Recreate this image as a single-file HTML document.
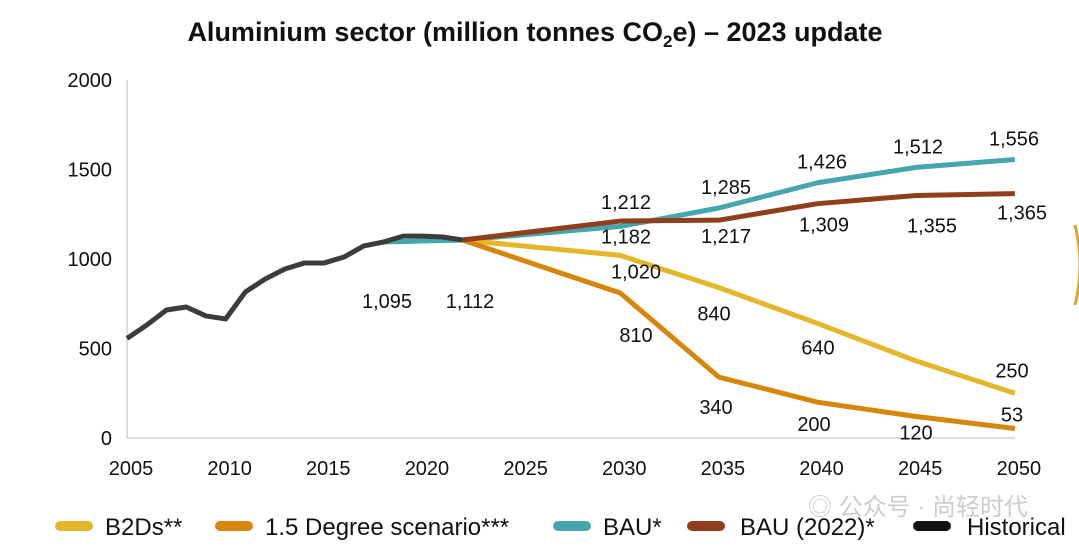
<!DOCTYPE html>
<html><head><meta charset="utf-8"><style>
body{margin:0;background:#fff;}
svg{display:block;font-family:"Liberation Sans",sans-serif;}
</style></head><body>
<svg id="chart" width="1079" height="551" viewBox="0 0 1079 551">
<text x="535" y="41" text-anchor="middle" font-size="27" font-weight="bold" fill="#111">Aluminium sector (million tonnes CO<tspan font-size="17" dy="6">2</tspan><tspan dy="-6">e) – 2023 update</tspan></text>
<line x1="127" y1="80" x2="127" y2="438" stroke="#bbb" stroke-width="1"/>
<line x1="127" y1="438" x2="1015" y2="438" stroke="#bbb" stroke-width="1"/>
<g id="yt"></g><g id="xt"></g><g id="lines"></g><g id="labels"></g>
<path d="M1075 225 Q1085 265 1075 305" stroke="#e2a040" stroke-width="3" fill="none"/>
<text x="918" y="515" text-anchor="middle" font-size="24" fill="#ccc" font-family="'Liberation Sans','Noto Sans CJK SC',sans-serif">◎ 公众号 · 尚轻时代</text>
<g id="legend"></g>
</svg>
<script>
const yTicks=[0,500,1000,1500,2000];
const xTicks=[2005,2010,2015,2020,2025,2030,2035,2040,2045,2050];
const histYears=[2005,2006,2007,2008,2009,2010,2011,2012,2013,2014,2015,2016,2017,2018,2019,2020,2021,2022];
const histVals=[556,631,715,732,682,665,816,888,944,978,978,1011,1073,1095,1128,1128,1123,1106];
const projYears=[2022,2030,2035,2040,2045,2050];
const b2ds=[1106,1020,840,640,430,250];
const deg15=[1106,810,340,200,120,53];
const bauYears=[2018,2022,2030,2035,2040,2045,2050];
const bau=[1095,1106,1182,1285,1426,1512,1556];
const bau22=[1106,1212,1217,1309,1355,1365];
const NS="http://www.w3.org/2000/svg";
const X=y=>127+(y-2005)*19.73, Y=v=>438-v*0.179;
function mk(t,a,p){const e=document.createElementNS(NS,t);for(const k in a)e.setAttribute(k,a[k]);document.getElementById(p).appendChild(e);return e;}
yTicks.forEach(v=>{const t=mk('text',{x:112,y:Y(v)+7,'text-anchor':'end','font-size':20,fill:'#111'},'yt');t.textContent=v;

});
xTicks.forEach(v=>{const t=mk('text',{x:X(v)+4,y:475,'text-anchor':'middle','font-size':20,fill:'#111'},'xt');t.textContent=v;

});
function line(xs,vs,c,name){const p=mk('polyline',{points:xs.map((x,i)=>X(x)+','+Y(vs[i])).join(' '),fill:'none',stroke:c,'stroke-width':5,'stroke-linejoin':'round'},'lines');

}
line(bauYears,bau,'#45a6ad','line-bau');
line(projYears,b2ds,'#e4b72a','line-b2ds');
line(projYears,deg15,'#d6860a','line-1-5-degree');
line(projYears,bau22,'#8f3f1b','line-bau-2022');
line(histYears,histVals,'#3c3c3c','line-historical');
function lab(txt,x,y){const t=mk('text',{x:x,y:y,'text-anchor':'middle','font-size':20,fill:'#111'},'labels');t.textContent=txt;

}
lab('1,095',387,308);lab('1,112',470,308);
const fmt=v=>v>=1000?Math.floor(v/1000)+','+String(v%1000).padStart(3,'0'):String(v);
[2,3,4,5,6].forEach(i=>lab(fmt(bau[i]),[0,0,626,726,822,918,1014][i],Y(bau[i])+(i==2?17:-14)));
[1,2,3,4,5].forEach(i=>lab(fmt(bau22[i]),[0,626,726,824,932,1022][i],Y(bau22[i])+[0,-12,23,28,37,26][i]));
[1,2,3,5].forEach(i=>lab(fmt(b2ds[i]),[0,636,714,818,0,1012][i],Y(b2ds[i])+[0,23,33,31,0,-16][i]));
[1,2,3,4,5].forEach(i=>lab(fmt(deg15[i]),[0,636,716,814,916,1012][i],Y(deg15[i])+[0,49,37,29,23,-7][i]));
const leg=[['B2Ds**','#e4b72a',55,105],['1.5 Degree scenario***','#d6860a',215,265],['BAU*','#45a6ad',553,603],['BAU (2022)*','#8f3f1b',687,740],['Historical','#111',913,967]];
leg.forEach(l=>{const r=mk('rect',{x:l[2],y:521,width:38,height:10,rx:5,fill:l[1]},'legend');


const t=mk('text',{x:l[3],y:535,'font-size':24,fill:'#111'},'legend');t.textContent=l[0];

});
</script>
</body></html>
